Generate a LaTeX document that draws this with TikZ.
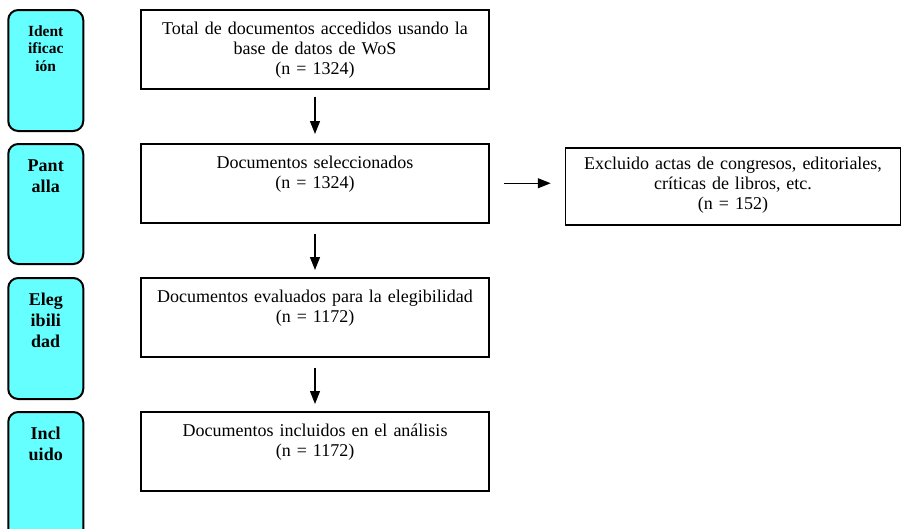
\documentclass[tikz,border=0pt]{standalone}
\usepackage{fontspec}
\setmainfont{Liberation Serif}
\usetikzlibrary{positioning,arrows.meta}
\definecolor{stagecyan}{RGB}{102,255,255}

\begin{document}
\begin{tikzpicture}[x=1pt, y=-1pt, node distance={53.5pt},
    box/.style = {draw, line width=1.5pt, inner sep=0pt, text width=348pt, align=center,
        font=\fontsize{18}{20}\selectfont, text height=25pt, text depth=54pt},
    stage/.style = {draw, line width=2pt, rounded corners=10pt, fill=stagecyan, inner sep=0pt,
        text width=75pt, align=center, font=\bfseries\fontsize{18}{21}\selectfont,
        text height=27pt, text depth=94pt},
    flow/.style = {-{Triangle[length=13pt,width=10pt]}, line width=1.3pt}]
    \useasboundingbox (0,0) rectangle (903,528);
    \clip (0,0) rectangle (903,528);
    % main column
    \node[box, anchor=north] (total) at (315,9) {Total de documentos accedidos usando la\\base de datos de WoS\\(n = 1324)};
    \node[box, below=of total] (sel) {Documentos seleccionados\\(n = 1324)};
    \node[box, below=of sel] (eval) {Documentos evaluados para la elegibilidad\\(n = 1172)};
    \node[box, below=of eval] (incl) {Documentos incluidos en el análisis\\(n = 1172)};
    \node[box, text width=335pt, text height=22pt, text depth=55pt, anchor=north west] (excl)
        at ([xshift=75pt, yshift=-4pt]sel.north east) {Excluido actas de congresos, editoriales,\\críticas de libros, etc.\\(n = 152)};
    % stages
    \node[stage, anchor=north east, font=\bfseries\fontsize{15.5}{17.5}\selectfont, text height=26pt, text depth=95pt] (ident)
        at ([xshift=-56pt]total.north west) {Ident\\ificac\\ión};
    \node[stage, anchor=north east, text depth=93pt] (screen) at ([xshift=-56pt]sel.north west) {Pant\\alla};
    \node[stage, anchor=north east] (elig) at ([xshift=-56pt]eval.north west) {Eleg\\ibili\\dad};
    \node[stage, anchor=north east, text depth=110pt] (inclu) at ([xshift=-56pt]incl.north west) {Incl\\uido};
    % arrows
    \draw[flow, shorten <=7pt, shorten >=9pt] (total) -- (sel);
    \draw[flow, shorten <=10pt, shorten >=7pt] (sel) -- (eval);
    \draw[flow, shorten <=10pt, shorten >=7pt] (eval) -- (incl);
    \draw[flow, shorten <=14pt, shorten >=14pt] (sel.east) -- (sel.east -| excl.west);
\end{tikzpicture}
\end{document}
